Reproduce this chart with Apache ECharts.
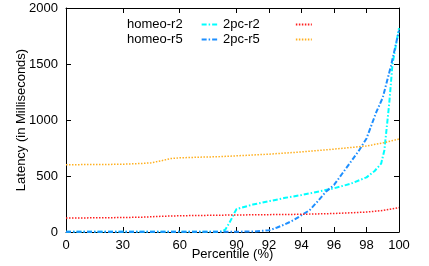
<!DOCTYPE html>
<html>
<head>
<meta charset="utf-8">
<script src="https://cdn.jsdelivr.net/npm/echarts@6/dist/echarts.min.js"></script>
<style>
  html, body { margin: 0; padding: 0; background: #fff; }
  #chart { width: 429px; height: 266px; }
</style>
</head>
<body>
<div id="chart"></div>
<script>
// tick labels on the percentile axis (axis is not linear: 0-90 squeezed, 90-100 stretched)
const pctTicks = [0, 30, 60, 90, 92, 94, 96, 98, 100];

// homeo-r2
const homeoR2Pct = [0, 20, 40, 60, 80, 82, 84, 86, 88, 89, 90, 91, 92, 93, 94, 95, 96, 97, 98, 98.5, 98.9, 99.1, 99.4, 99.6, 100];
const homeoR2Lat = [3, 3, 3, 3, 3, 5, 20, 75, 140, 175, 205, 245, 275, 305, 330, 360, 390, 430, 488, 545, 610, 730, 1150, 1500, 1820];
// homeo-r5
const homeoR5Pct = [0, 30, 60, 90, 91, 92, 92.5, 93, 93.5, 94, 94.5, 95, 95.5, 96, 96.5, 97, 97.5, 98, 98.6, 99, 99.5, 100];
const homeoR5Lat = [2, 2, 2, 3, 4, 15, 40, 70, 105, 150, 195, 275, 360, 420, 520, 620, 720, 835, 1070, 1200, 1480, 1800];
// 2pc-r2
const pcR2Pct = [0, 20, 40, 50, 60, 80, 90, 92, 94, 96, 98, 99, 100];
const pcR2Lat = [125, 127, 132, 140, 145, 150, 152, 155, 158, 165, 178, 192, 218];
// 2pc-r5
const pcR5Pct = [0, 10, 20, 30, 40, 45, 50, 55, 60, 70, 80, 90, 92, 94, 96, 98, 99, 100];
const pcR5Lat = [600, 602, 603, 605, 612, 618, 635, 655, 662, 668, 672, 680, 695, 715, 740, 768, 795, 830];

// map percentile onto the broken axis
function pos(p) {
  return p <= 90 ? p * 1.75 / 30 : 5.25 + (p - 90) / 2;
}
function pairs(xs, ys) {
  return xs.map((x, i) => [pos(x), ys[i]]);
}
const tickPos = pctTicks.map(pos);

const font = "'Liberation Sans', Arial, sans-serif";

const chart = echarts.init(document.getElementById("chart"));

function makeSeries(name, xs, ys, color, type, width) {
  return {
    name: name,
    type: "line",
    data: pairs(xs, ys),
    showSymbol: false,
    symbol: "none",
    animation: false,
    lineStyle: { color: color, width: width, type: type },
    itemStyle: { color: color },
  };
}

const tickCommon = { inside: true, length: 5, lineStyle: { color: "#000", width: 1 } };

// gnuplot-like key: text left, sample pushed to the right
function legendAt(left, names, padRight) {
  return {
    orient: "vertical",
    left: left,
    top: 13,
    itemWidth: 16,
    itemHeight: 10,
    itemGap: 2,
    align: "right",
    data: names,
    itemStyle: { opacity: 0 },
    textStyle: { fontFamily: font, fontSize: 13, color: "#000", lineHeight: 10, padding: [0, padRight, 0, 0] },
  };
}

chart.setOption({
  animation: false,
  textStyle: { fontFamily: font },
  grid: { left: 66, right: 30, top: 8, bottom: 34, outerBoundsMode: "none", containLabel: false },
  legend: [legendAt(122, ["homeo-r2", "homeo-r5"], 14), legendAt(218, ["2pc-r2", "2pc-r5"], 31)],
  xAxis: [
    {
      type: "value",
      min: 0,
      max: pos(100),
      name: "Percentile (%)",
      nameLocation: "middle",
      nameGap: 16,
      nameMoveOverlap: false,
      nameTextStyle: { fontFamily: font, fontSize: 13, color: "#000" },
      axisLine: { onZero: false, lineStyle: { color: "#000", width: 1 } },
      axisTick: Object.assign({ customValues: tickPos }, tickCommon),
      axisLabel: {
        customValues: tickPos,
        formatter: (v) => {
          const i = tickPos.findIndex((t) => Math.abs(t - v) < 1e-6);
          return i >= 0 ? String(pctTicks[i]) : "";
        },
        fontFamily: font,
        fontSize: 13,
        color: "#000",
        margin: 7,
      },
      splitLine: { show: false },
    },
    {
      type: "value",
      position: "top",
      min: 0,
      max: pos(100),
      axisLine: { onZero: false, lineStyle: { color: "#000", width: 1 } },
      axisTick: Object.assign({ customValues: tickPos }, tickCommon),
      axisLabel: { show: false },
      splitLine: { show: false },
    },
  ],
  yAxis: [
    {
      type: "value",
      min: 0,
      max: 2000,
      interval: 500,
      name: "Latency (in Milliseconds)",
      nameLocation: "middle",
      nameGap: 38,
      nameMoveOverlap: false,
      nameTextStyle: { fontFamily: font, fontSize: 13, color: "#000" },
      axisLine: { show: true, onZero: false, lineStyle: { color: "#000", width: 1 } },
      axisTick: tickCommon,
      axisLabel: { fontFamily: font, fontSize: 13, color: "#000", margin: 8, formatter: (v) => String(v) },
      splitLine: { show: false },
    },
    {
      type: "value",
      position: "right",
      min: 0,
      max: 2000,
      interval: 500,
      axisLine: { show: true, onZero: false, lineStyle: { color: "#000", width: 1 } },
      axisTick: tickCommon,
      axisLabel: { show: false },
      splitLine: { show: false },
    },
  ],
  series: [
    makeSeries("homeo-r2", homeoR2Pct, homeoR2Lat, "#00ffff", [5, 2, 1.5, 2], 2),
    makeSeries("homeo-r5", homeoR5Pct, homeoR5Lat, "#1e8fff", [5, 2, 1.5, 2], 2),
    makeSeries("2pc-r2", pcR2Pct, pcR2Lat, "#ff2020", [1.5, 1.5], 1.5),
    makeSeries("2pc-r5", pcR5Pct, pcR5Lat, "#ffb020", [1.5, 1.5], 1.5),
  ],
});
</script>
</body>
</html>
